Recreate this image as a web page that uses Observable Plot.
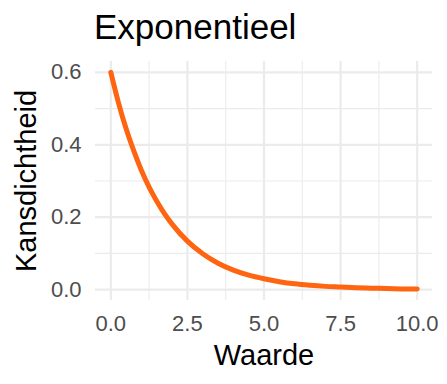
<!DOCTYPE html>
<html>
<head>
<meta charset="utf-8">
<script src="https://cdn.jsdelivr.net/npm/d3@7"></script>
<script src="https://cdn.jsdelivr.net/npm/@observablehq/plot@0.6"></script>
<style>
  html, body { margin: 0; padding: 0; background: #ffffff; }
  #wrap { width: 447px; height: 384px; position: relative; overflow: hidden; font-family: "Liberation Sans", Arial, sans-serif; }
  #title { height: 50px; line-height: 50px; padding-left: 94px; font-size: 35px; color: #000; box-sizing: border-box; padding-top: 2px; white-space: nowrap; }
  svg { display: block; overflow: visible; }
</style>
</head>
<body>
<div id="wrap">
  <div id="title">Exponentieel</div>
  <div id="chart"></div>
</div>
<script>
const titleText = "Exponentieel";
const xLabel = "Waarde";
const yLabel = "Kansdichtheid";
const xValues = [0, 0.25, 0.5, 0.75, 1, 1.25, 1.5, 1.75, 2, 2.5, 3, 3.5, 4, 4.5, 5, 5.5, 6, 6.5, 7, 7.5, 8, 8.5, 9, 9.5, 10];
const yValues = [0.600, 0.516, 0.444, 0.383, 0.329, 0.283, 0.244, 0.210, 0.181, 0.134, 0.099, 0.073, 0.054, 0.040, 0.030, 0.022, 0.016, 0.012, 0.009, 0.007, 0.005, 0.004, 0.003, 0.002, 0.0015];
const xTicks = [0, 2.5, 5, 7.5, 10];
const xMinor = [1.25, 3.75, 6.25, 8.75];
const yTicks = [0, 0.2, 0.4, 0.6];
const yMinor = [0.1, 0.3, 0.5];
const xTickLabels = ["0.0", "2.5", "5.0", "7.5", "10.0"];
const yTickLabels = ["0.0", "0.2", "0.4", "0.6"];

const data = xValues.map((x, i) => ({x, y: yValues[i]}));
document.getElementById("title").textContent = titleText;

const chart = Plot.plot({
  width: 447,
  height: 334,
  marginLeft: 95,
  marginRight: 15,
  marginTop: 11,
  marginBottom: 84,
  style: {fontFamily: "Liberation Sans, Arial, sans-serif", background: "#ffffff", overflow: "visible"},
  x: {domain: [-0.5, 10.5]},
  y: {domain: [-0.03, 0.63]},
  marks: [
    Plot.gridX(xMinor, {stroke: "#ebebeb", strokeOpacity: 1, strokeWidth: 1.1}),
    Plot.gridY(yMinor, {stroke: "#ebebeb", strokeOpacity: 1, strokeWidth: 1.1}),
    Plot.gridX(xTicks, {stroke: "#ebebeb", strokeOpacity: 1, strokeWidth: 2.2}),
    Plot.gridY(yTicks, {stroke: "#ebebeb", strokeOpacity: 1, strokeWidth: 2.2}),
    Plot.axisX(xTicks, {tickSize: 0, tickPadding: 15, fontSize: 22, fill: "#4d4d4d", label: null,
      tickFormat: (d) => xTickLabels[xTicks.indexOf(d)]}),
    Plot.axisY(yTicks, {tickSize: 0, tickPadding: 14, fontSize: 22, fill: "#4d4d4d", label: null,
      tickFormat: (d) => yTickLabels[yTicks.indexOf(d)]}),
    Plot.line(data, {x: "x", y: "y", stroke: "#ff6410", strokeWidth: 5, curve: "monotone-x"}),
    Plot.text([xLabel], {frameAnchor: "bottom", dy: 55, text: d => d, fontSize: 29, fill: "#000", lineAnchor: "middle", textAnchor: "middle"}),
    Plot.text([yLabel], {frameAnchor: "left", dx: -69, rotate: -90, text: d => d, fontSize: 29, fill: "#000", lineAnchor: "middle", textAnchor: "middle"})
  ]
});
document.getElementById("chart").appendChild(chart);
</script>
</body>
</html>
